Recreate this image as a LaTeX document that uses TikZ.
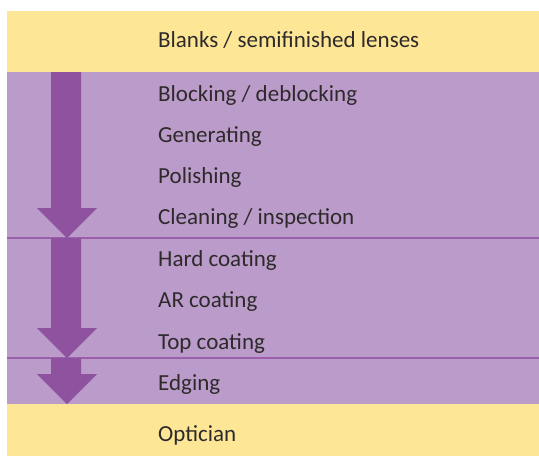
\documentclass[tikz,border=0pt]{standalone}
\usepackage{fontspec}
\setmainfont{Carlito}
\usetikzlibrary{positioning,calc}

\definecolor{bandyellow}{RGB}{253,230,150}
\definecolor{bandpurple}{RGB}{186,155,201}
\definecolor{arrowpurple}{RGB}{142,82,158}
\definecolor{linepurple}{RGB}{155,95,172}
\definecolor{textgray}{RGB}{46,42,43}

\tikzset{
    band/.style={fill=#1, draw=none},
    steplabel/.style={anchor=base west, inner sep=0pt, text=textgray, font=\fontsize{23}{26}\selectfont},
    stagearrow/.style={fill=arrowpurple, draw=none},
    divider/.style={draw=linepurple, line width=1.3pt}
}

\begin{document}
\begin{tikzpicture}[x=1pt, y=-1pt]
        \useasboundingbox (0,0) rectangle (539,456);

        % bands
        \fill[band=bandyellow] (7,11) rectangle (539,72);
        \fill[band=bandpurple] (7,72) rectangle (539,404);
        \fill[band=bandyellow] (7,404) rectangle (539,456);

        \draw[divider] (7,238) -- (539,238);
        \draw[divider] (7,358) -- (539,358);

        % arrows
        \fill[stagearrow] (51,72) -- (81,72) -- (81,208) -- (97,208) -- (67,238) -- (37,208) -- (51,208) -- cycle;
        \fill[stagearrow] (51,238) -- (81,238) -- (81,328) -- (97,328) -- (67,358) -- (37,328) -- (51,328) -- cycle;
        \fill[stagearrow] (51,358) -- (81,358) -- (81,374) -- (97,374) -- (67,404) -- (37,374) -- (51,374) -- cycle;

        % labels
        \node[steplabel] (blanks) at (158,47) {Blanks / semifinished lenses};
        \node[steplabel] (blocking) at (158,101.5) {Blocking / deblocking};
        \node[steplabel] (generating) at (158,142) {Generating};
        \node[steplabel] (polishing) at (158,183) {Polishing};
        \node[steplabel] (cleaning) at (158,224.5) {Cleaning / inspection};
        \node[steplabel] (hardcoat) at (158,266) {Hard coating};
        \node[steplabel] (arcoat) at (158,307) {AR coating};
        \node[steplabel] (topcoat) at (158,349) {Top coating};
        \node[steplabel] (edging) at (158,390) {Edging};
        \node[steplabel] (optician) at (158,441) {Optician};
    \end{tikzpicture}
\end{document}
